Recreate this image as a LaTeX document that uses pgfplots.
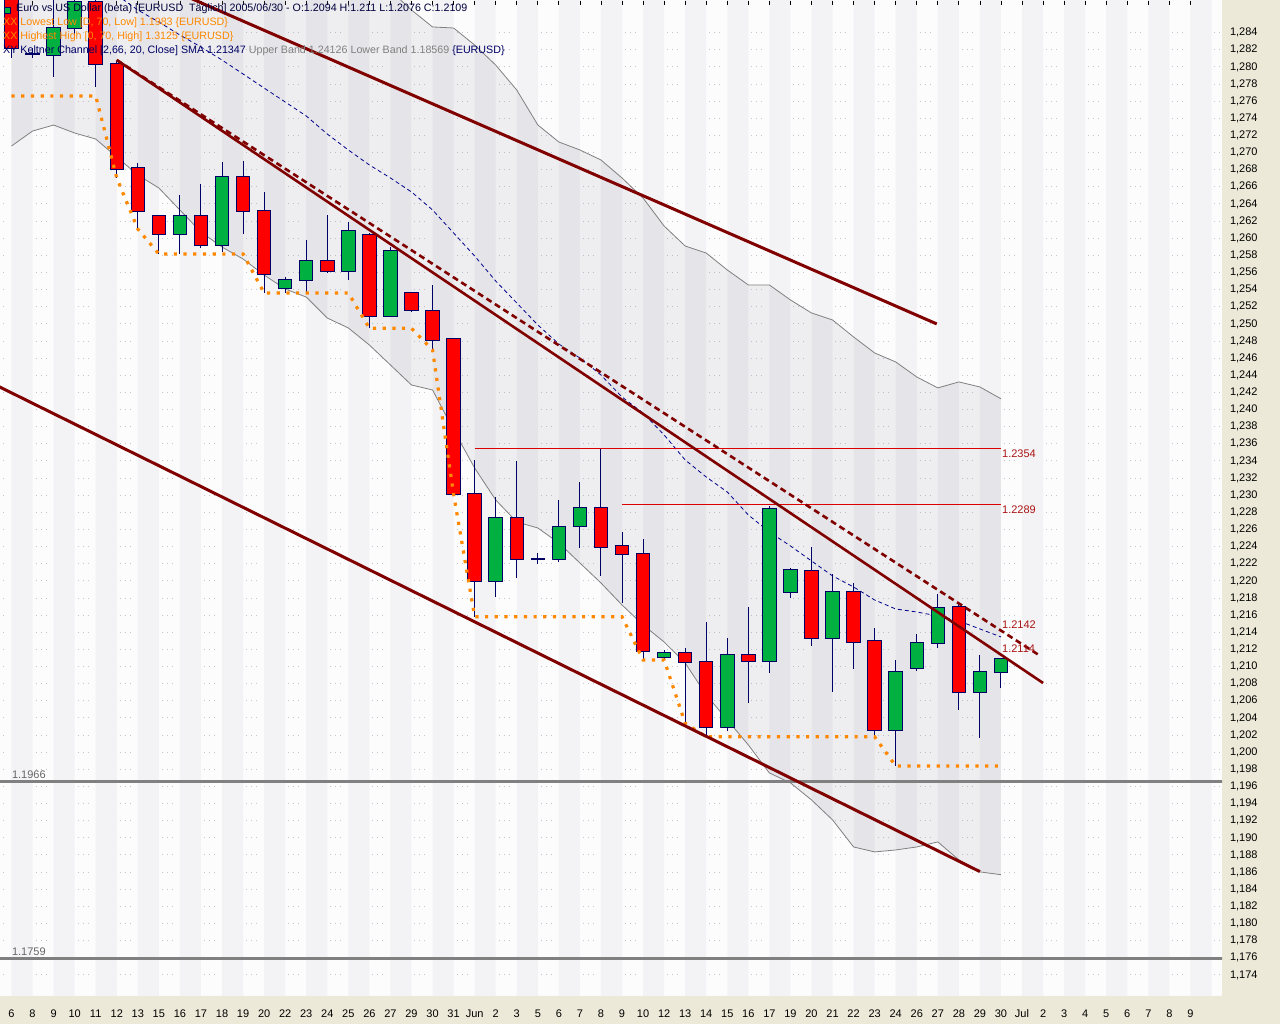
\documentclass[border=0pt]{standalone}
\usepackage{fontspec}
\setmainfont{Liberation Sans}
\usepackage{pgfplots}
\usepackage{pgfplotstable}
\pgfplotsset{compat=1.18}
\usepgfplotslibrary{fillbetween}

\definecolor{beige}{RGB}{236,233,216}
\definecolor{bgwhite}{RGB}{252,252,253}
\definecolor{stripec}{RGB}{90,90,130}
\definecolor{bandc}{RGB}{150,150,160}
\definecolor{bandline}{RGB}{128,128,128}
\definecolor{navyc}{RGB}{0,0,102}
\definecolor{smac}{RGB}{0,0,140}
\definecolor{candred}{RGB}{255,0,0}
\definecolor{candgreen}{RGB}{0,176,64}
\definecolor{trendc}{RGB}{128,0,0}
\definecolor{hline}{RGB}{220,0,0}
\definecolor{hlabel}{RGB}{170,20,20}
\definecolor{supc}{RGB}{128,128,128}
\definecolor{orangec}{RGB}{255,136,0}
\definecolor{gridc}{RGB}{195,195,205}

% down candles: index, open, high, low, close
\pgfplotstableread{
i o h l c
0 1.28950 1.29000 1.28100 1.28218
1 1.28148 1.28220 1.28100 1.28148
4 1.28760 1.28850 1.27763 1.28035
5 1.28035 1.28070 1.26704 1.26809
6 1.26817 1.26879 1.26108 1.26315
7 1.26260 1.26260 1.25817 1.26050
9 1.26260 1.26634 1.25887 1.25918
11 1.26712 1.26902 1.26050 1.26315
12 1.26315 1.26537 1.25365 1.25580
15 1.25731 1.26272 1.25591 1.25615
17 1.26042 1.26058 1.24949 1.25093
19 1.25358 1.25358 1.25143 1.25163
20 1.25155 1.25455 1.24696 1.24813
21 1.24821 1.24821 1.23011 1.23011
22 1.23011 1.23412 1.21582 1.21999
24 1.22731 1.23400 1.22038 1.22253
25 1.22260 1.22323 1.22194 1.22260
28 1.22848 1.23540 1.22058 1.22393
29 1.22408 1.22575 1.21746 1.22311
30 1.22314 1.22489 1.21077 1.21178
32 1.21159 1.21213 1.20338 1.21057
33 1.21057 1.21517 1.20190 1.20298
35 1.21135 1.21699 1.20571 1.21069
38 1.22116 1.22400 1.21244 1.21330
40 1.21867 1.21979 1.20972 1.21291
41 1.21299 1.21454 1.20175 1.20260
45 1.21692 1.21731 1.20493 1.20700
}\downc

% up candles
\pgfplotstableread{
i o h l c
2 1.28140 1.28950 1.27886 1.28451
3 1.28451 1.28950 1.28350 1.28760
8 1.26050 1.26505 1.25817 1.26260
10 1.25918 1.26891 1.25840 1.26712
13 1.25416 1.25552 1.25358 1.25513
14 1.25513 1.25980 1.25358 1.25731
16 1.25615 1.26187 1.25513 1.26082
18 1.25093 1.25895 1.25093 1.25848
23 1.21999 1.22983 1.21816 1.22731
26 1.22253 1.22945 1.22225 1.22633
27 1.22645 1.23158 1.22388 1.22848
31 1.21108 1.21194 1.21077 1.21159
34 1.20298 1.21337 1.20252 1.21135
36 1.21069 1.22875 1.20922 1.22840
37 1.21874 1.22154 1.21804 1.22128
39 1.21330 1.22077 1.20707 1.21867
42 1.20260 1.21077 1.19839 1.20933
43 1.20980 1.21380 1.20952 1.21272
44 1.21272 1.21844 1.21221 1.21680
46 1.20700 1.21135 1.20163 1.20933
47 1.20933 1.21097 1.20753 1.21085
}\upc

% Keltner channel: upper band, SMA, lower band
\pgfplotstableread{
i up sma lo
0 1.29900 nan 1.27077
1 1.29900 nan 1.27252
2 1.29900 nan 1.27322
3 1.29900 nan 1.27229
4 1.29900 nan 1.27159
5 1.29900 1.28840 1.26949
6 1.29900 1.28665 1.26739
7 1.29900 1.28525 1.26587
8 1.29900 1.28373 1.26330
9 1.29900 1.28233 1.26073
10 1.29900 1.28081 1.25898
11 1.29900 1.27918 1.25758
12 1.29900 1.27754 1.25571
13 1.29600 1.27591 1.25408
14 1.29400 1.27428 1.25314
15 1.29250 1.27217 1.25069
16 1.29110 1.27031 1.24953
17 1.28960 1.26856 1.24754
18 1.28890 1.26704 1.24521
19 1.28665 1.26541 1.24287
20 1.28467 1.26331 1.24229
21 1.28455 1.26062 1.23762
22 1.28256 1.25793 1.23318
23 1.28022 1.25501 1.22945
24 1.27731 1.25245 1.22688
25 1.27323 1.24988 1.22618
26 1.27124 1.24766 1.22443
27 1.27031 1.24602 1.22209
28 1.26914 1.24404 1.21976
29 1.26704 1.24147 1.21719
30 1.26470 1.23960 1.21486
31 1.26143 1.23704 1.21287
32 1.25910 1.23412 1.21042
33 1.25828 1.23213 1.20669
34 1.25630 1.23038 1.20377
35 1.25455 1.22770 1.20085
36 1.25455 1.22571 1.19758
37 1.25280 1.22408 1.19642
38 1.25128 1.22233 1.19443
39 1.25046 1.22058 1.19210
40 1.24848 1.21929 1.18894
41 1.24661 1.21777 1.18836
42 1.24556 1.21672 1.18859
43 1.24381 1.21637 1.18894
44 1.24253 1.21591 1.18953
45 1.24323 1.21532 1.18743
46 1.24264 1.21439 1.18603
47 1.24126 1.21346 1.18570
}\kelt

% Lowest Low step line
\pgfplotstableread{
i v
0 1.27661
1 1.27661
2 1.27661
3 1.27661
4 1.27661
5 1.26704
6 1.26108
7 1.25817
8 1.25817
9 1.25817
10 1.25817
11 1.25817
12 1.25362
13 1.25362
14 1.25362
15 1.25362
16 1.25362
17 1.24949
18 1.24949
19 1.24949
20 1.24696
21 1.23011
22 1.21582
23 1.21582
24 1.21582
25 1.21582
26 1.21582
27 1.21582
28 1.21582
29 1.21582
30 1.21077
31 1.21077
32 1.20338
33 1.20180
34 1.20180
35 1.20180
36 1.20180
37 1.20180
38 1.20180
39 1.20180
40 1.20180
41 1.20180
42 1.19839
43 1.19839
44 1.19839
45 1.19839
46 1.19839
47 1.19839
}\lowlow

\pgfplotsset{
  wick/.style={draw=none, mark=none, error bars/.cd, y dir=both, y explicit, error mark=none,
    error bar style={draw=navyc, line width=1pt, solid}},
  body/.style={draw=none, mark=none, error bars/.cd, y dir=both, y explicit, error mark=none,
    error bar style={draw=#1, line width=12.5pt, solid}},
  bodyline/.style={draw=none, mark=none, error bars/.cd, y dir=both, y explicit, error mark=none,
    error bar style={draw=navyc, line width=14.5pt, solid}},
}

\begin{document}
\begin{tikzpicture}[x=1pt,y=1pt]
\fill[beige] (1222,0) rectangle (1280,1024);
\fill[beige] (0,0) rectangle (1280,28);
\begin{axis}[
  at={(0pt,28pt)}, anchor=south west,
  scale only axis, width=1222pt, height=996pt,
  xmin=-0.546, xmax=57.5, ymin=1.17154, ymax=1.28782,
  axis line style={draw=none},
  axis background/.style={fill=bgwhite},
  ymajorgrids,
  grid style={draw=gridc, line width=1pt, dash pattern=on 1pt off 4pt on 1pt off 4pt on 1pt off 31.1pt, dash phase=6.6pt},
  xtick={0,...,56},
  xticklabels={6,8,9,10,11,12,13,15,16,17,18,19,20,22,23,24,25,26,27,29,30,31,Jun,2,3,5,6,7,8,9,10,12,13,14,15,16,17,19,20,21,22,23,24,26,27,28,29,30,Jul,2,3,4,5,6,7,8,9},
  ytick={1.174,1.176,...,1.2845},
  yticklabel pos=right,
  tick align=outside, major tick length=4.5pt,
  tick style={draw=black, line width=0.8pt},
  every x tick/.append style={yshift=-5pt},
  ticklabel style={font=\fontsize{11}{13}\selectfont, text=black},
  x tick label style={yshift=-6pt},
  y tick label style={/pgf/number format/.cd, fixed, fixed zerofill, precision=3, use comma, assume math mode=true},
]
% alternating day stripes
\addplot[ybar interval, fill=stripec, fill opacity=0.055, draw=none] coordinates {
(0,1.3)(1,0)(2,1.3)(3,0)(4,1.3)(5,0)(6,1.3)(7,0)(8,1.3)(9,0)(10,1.3)(11,0)(12,1.3)(13,0)(14,1.3)(15,0)(16,1.3)(17,0)(18,1.3)(19,0)(20,1.3)(21,0)(22,1.3)(23,0)(24,1.3)(25,0)(26,1.3)(27,0)(28,1.3)(29,0)(30,1.3)(31,0)(32,1.3)(33,0)(34,1.3)(35,0)(36,1.3)(37,0)(38,1.3)(39,0)(40,1.3)(41,0)(42,1.3)(43,0)(44,1.3)(45,0)(46,1.3)(47,0)(48,1.3)(49,0)(50,1.3)(51,0)(52,1.3)(53,0)(54,1.3)(55,0)(56,1.3)(57,0)(58,0)};

% Keltner channel
\addplot[draw=none, name path=up] table[x=i, y=up] \kelt;
\addplot[draw=none, name path=lo] table[x=i, y=lo] \kelt;
\addplot[fill=bandc, fill opacity=0.13, draw=none] fill between[of=up and lo];
\addplot[draw=bandline, line width=0.8pt] table[x=i, y=up] \kelt;
\addplot[draw=bandline, line width=0.8pt] table[x=i, y=lo] \kelt;
\addplot[draw=smac, line width=0.8pt, dash pattern=on 4pt off 3pt, unbounded coords=jump] table[x=i, y=sma] \kelt;

% support lines
\addplot[draw=supc, line width=3pt] coordinates {(-1,1.1966) (58,1.1966)};
\addplot[draw=supc, line width=3pt] coordinates {(-1,1.1759) (58,1.1759)};

% candle wicks
\addplot[wick] table[x=i, y expr={(\thisrow{h}+\thisrow{l})/2}, y error expr={(\thisrow{h}-\thisrow{l})/2}] \downc;
\addplot[wick] table[x=i, y expr={(\thisrow{h}+\thisrow{l})/2}, y error expr={(\thisrow{h}-\thisrow{l})/2}] \upc;
% candle bodies: outline then fill
\addplot[bodyline] table[x=i, y expr={(\thisrow{o}+\thisrow{c})/2}, y error expr={abs(\thisrow{o}-\thisrow{c})/2+0.000117}] \downc;
\addplot[body=candred] table[x=i, y expr={(\thisrow{o}+\thisrow{c})/2}, y error expr={abs(\thisrow{o}-\thisrow{c})/2}] \downc;
\addplot[bodyline] table[x=i, y expr={(\thisrow{o}+\thisrow{c})/2}, y error expr={abs(\thisrow{o}-\thisrow{c})/2+0.000117}] \upc;
\addplot[body=candgreen] table[x=i, y expr={(\thisrow{o}+\thisrow{c})/2}, y error expr={abs(\thisrow{o}-\thisrow{c})/2}] \upc;

% lowest low
\addplot[draw=orangec, line width=3.2pt, dash pattern=on 3.2pt off 6.5pt] table[x=i, y=v] \lowlow;

% resistance lines
\addplot[draw=hline, line width=1pt] coordinates {(22,1.2354) (47,1.2354)};
\addplot[draw=hline, line width=1pt] coordinates {(29,1.2289) (47,1.2289)};

% trend lines
\addplot[draw=trendc, line width=3pt] coordinates {(5,1.29179) (43.95,1.25000)};
\addplot[draw=trendc, line width=3pt] coordinates {(-1,1.24317) (46,1.18606)};
\addplot[draw=trendc, line width=2.6pt] coordinates {(5,1.28081) (49,1.20808)};
\addplot[draw=trendc, line width=2.6pt, dash pattern=on 6pt off 4pt] coordinates {(5,1.28081) (48.86,1.21125)};

\node[anchor=north west, inner sep=1pt, text=hlabel, font=\fontsize{11}{13}\selectfont] at (axis cs:47,1.2354) {1.2354};
\node[anchor=north west, inner sep=1pt, text=hlabel, font=\fontsize{11}{13}\selectfont] at (axis cs:47,1.2289) {1.2289};
\node[anchor=south west, inner sep=1pt, yshift=1pt, text=hlabel, font=\fontsize{11}{13}\selectfont] at (axis cs:47,1.2142) {1.2142};
\node[anchor=south west, inner sep=1pt, yshift=1pt, text=hlabel, font=\fontsize{11}{13}\selectfont] at (axis cs:47,1.2114) {1.2114};
\node[anchor=south west, inner sep=1pt, yshift=1.5pt, text=black!60, font=\fontsize{11}{13}\selectfont] at (axis cs:-0.03,1.1966) {1.1966};
\node[anchor=south west, inner sep=1pt, yshift=1.5pt, text=black!60, font=\fontsize{11}{13}\selectfont] at (axis cs:-0.03,1.1759) {1.1759};
\end{axis}

% chart header
\begin{scope}[every node/.style={anchor=west, inner sep=0pt, font=\fontsize{10.7}{13}\selectfont}]
\fill[candgreen, draw=navyc, line width=0.8pt] (4,1011) rectangle (10,1017);
\node[text=navyc!60!black] at (16,1015) {Euro vs US Dollar (beta) [EURUSD\ \ Täglich] 2005/06/30 - O:1.2094 H:1.211 L:1.2076 C:1.2109};
\node[text=orangec] at (3,1001) {XX Lowest Low [D, 70, Low] 1.1983 \{EURUSD\}};
\node[text=orangec] at (3,987) {XX Highest High [0, 70, High] 1.3125 \{EURUSD\}};
\node[text=navyc] at (3,973) {XY Keltner Channel [2,66, 20, Close] SMA 1.21347 \textcolor{black!50}{Upper Band 1.24126 Lower Band 1.18569} \{EURUSD\}};
\end{scope}
\pgfresetboundingbox
\path[use as bounding box] (0,0) rectangle (1280,1024);
\end{tikzpicture}
\end{document}
